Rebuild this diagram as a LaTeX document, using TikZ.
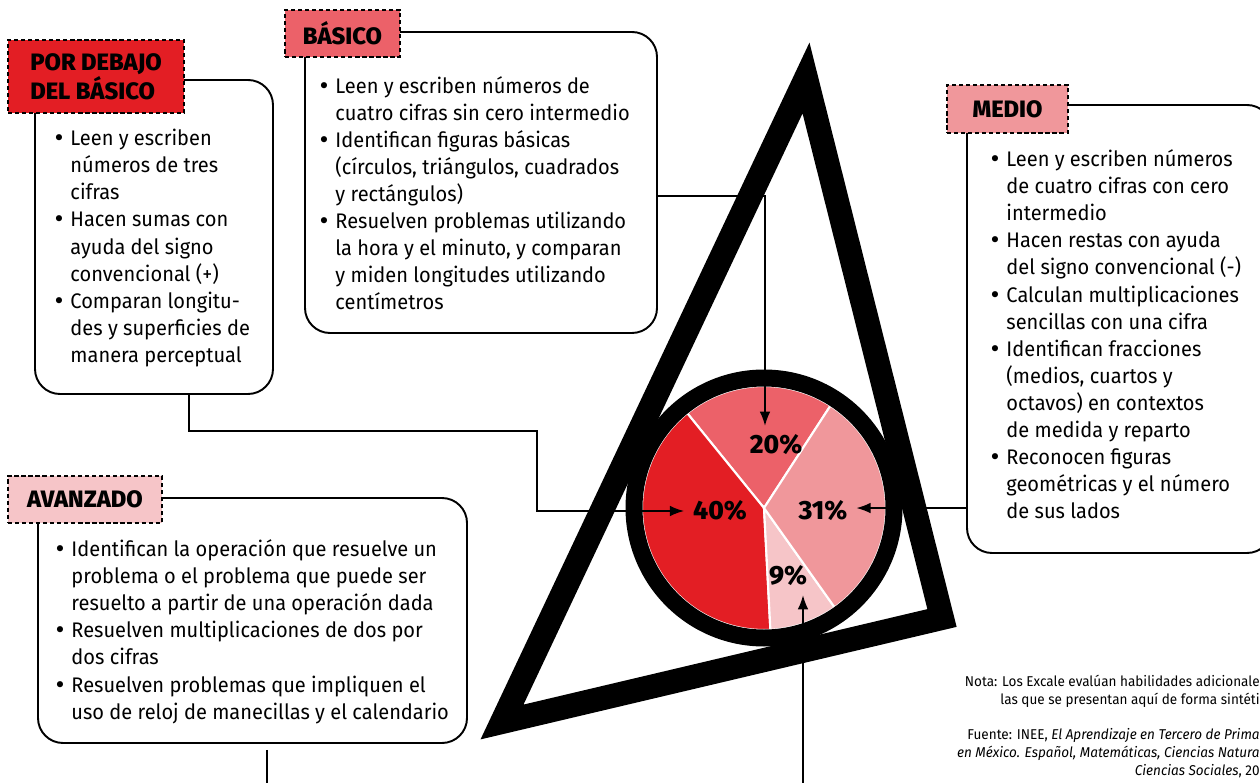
\documentclass[tikz,border=0pt]{standalone}
\usepackage{fontspec}
\setmainfont{Fira Sans}[FakeStretch=0.95]
\newfontfamily\headfont{Fira Sans ExtraBold}
\newfontfamily\puntofont{DejaVu Sans}
\usetikzlibrary{calc,positioning,fit,arrows.meta}

\definecolor{debajo}{RGB}{227,30,36}
\definecolor{basico}{RGB}{236,97,105}
\definecolor{medio}{RGB}{240,151,155}
\definecolor{avanzado}{RGB}{246,197,200}

\newcommand{\pto}{\makebox[10pt][l]{\puntofont\textbullet}}
\newcommand{\sgt}{\hspace*{10pt}}

\tikzset{
	caja/.style={draw,line width=1.1pt,rounded corners=0.5cm,inner sep=0pt},
	etiqueta/.style={draw,line width=0.9pt,dash pattern=on 2.4pt off 1.6pt,inner sep=0pt,align=left,
		font=\headfont\fontsize{13.5}{16.5}\selectfont},
	texto/.style={inner sep=0pt,align=left,font=\fontsize{12}{15.4}\selectfont},
	porc/.style={inner sep=5pt,font=\headfont\fontsize{15}{16}\selectfont},
	flecha/.style={line width=0.8pt,->},
	nota/.style={inner sep=0pt,align=right,font=\fontsize{8.1}{10.2}\selectfont}
}

\begin{document}
\begin{tikzpicture}[x=0.02cm,y=-0.02cm,>={Latex[length=8pt,width=6pt]}]
	\useasboundingbox (0,0) rectangle (1260,783);
	\clip (0,0) rectangle (1260,783);

	% triangulo
	\draw[line width=0.48cm,line join=miter] (806,78) -- (502,722) -- (942,618) -- cycle;

	% pastel
	\begin{scope}[shift={(764,508)},yscale=-1]
		\filldraw[fill=basico,draw=white,line width=1.2pt] (0,0) -- (57:122) arc[start angle=57,end angle=129,radius=122] -- cycle;
		\filldraw[fill=debajo,draw=white,line width=1.2pt] (0,0) -- (129:122) arc[start angle=129,end angle=273,radius=122] -- cycle;
		\filldraw[fill=avanzado,draw=white,line width=1.2pt] (0,0) -- (273:122) arc[start angle=273,end angle=305.4,radius=122] -- cycle;
		\filldraw[fill=medio,draw=white,line width=1.2pt] (0,0) -- (305.4:122) arc[start angle=305.4,end angle=417,radius=122] -- cycle;
		\draw[line width=0.34cm] (0,0) circle[radius=130];
	\end{scope}
	\node[porc] (p20) at (776,445) {20\%};
	\node[porc] (p40) at (720,511) {40\%};
	\node[porc] (p31) at (823,511) {31\%};
	\node[porc] (p9)  at (788,576) {9\%};

	% cajas
	\node[caja,fit={(35,80) (273,394)}] (b1) {};
	\node[caja,fit={(305,32) (657,333)}] (b2) {};
	\node[caja,fit={(967,105) (1272,553)}] (b3) {};
	\node[caja,fit={(38,498) (467,743)}] (b4) {};

	\node[texto,below right=1.0cm and 0.37cm of b1.north west] (t1) {%
		\pto Leen y escriben\\ \sgt números de tres\\ \sgt cifras\\
		\pto Hacen sumas con\\ \sgt ayuda del signo\\ \sgt convencional (+)\\
		\pto Comparan longitu-\\ \sgt des y superficies de\\ \sgt manera perceptual};
	\node[texto,below right=0.9cm and 0.27cm of b2.north west] (t2) {%
		\pto Leen y escriben números de\\ \sgt cuatro cifras sin cero intermedio\\
		\pto Identifican figuras básicas\\ \sgt (círculos, triángulos, cuadrados\\ \sgt y rectángulos)\\
		\pto Resuelven problemas utilizando\\ \sgt la hora y el minuto, y comparan\\ \sgt y miden longitudes utilizando\\ \sgt centímetros};
	\node[texto,below right=0.91cm and 0.45cm of b3.north west] (t3) {%
		\pto Leen y escriben números\\ \sgt de cuatro cifras con cero\\ \sgt intermedio\\
		\pto Hacen restas con ayuda\\ \sgt del signo convencional (-)\\
		\pto Calculan multiplicaciones\\ \sgt sencillas con una cifra\\
		\pto Identifican fracciones\\ \sgt (medios, cuartos y\\ \sgt octavos) en contextos\\ \sgt de medida y reparto\\
		\pto Reconocen figuras\\ \sgt geométricas y el número\\ \sgt de sus lados};
	\node[texto,below right=0.85cm and 0.33cm of b4.north west] (t4) {%
		\pto Identifican la operación que resuelve un\\ \sgt problema o el problema que puede ser\\ \sgt resuelto a partir de una operación dada\\
		\pto Resuelven multiplicaciones de dos por\\ \sgt dos cifras\\
		\pto Resuelven problemas que impliquen el\\ \sgt uso de reloj de manecillas y el calendario};

	% etiquetas
	\node[etiqueta,fill=debajo,minimum width=3.52cm,minimum height=1.46cm] (l1) at (96,76.5) {POR DEBAJO\\DEL BÁSICO};
	\node[etiqueta,fill=basico,minimum width=2.3cm,minimum height=0.94cm] (l2) at (342.5,33.5) {BÁSICO};
	\node[etiqueta,fill=medio,minimum width=2.42cm,minimum height=0.96cm] (l3) at (1007.5,109) {MEDIO};
	\node[etiqueta,fill=avanzado,minimum width=3.08cm,minimum height=0.94cm] (l4) at (85,499.5) {AVANZADO};

	% notas
	\node[nota,anchor=north east] (nota) at (1260,675) {Nota: Los Excale evalúan habilidades adicionale\\las que se presentan aquí de forma sintéti};
	\node[nota,anchor=north east] (fuente) at (1260,728) {Fuente: INEE, \textit{El Aprendizaje en Tercero de Prima}\\
		\textit{en México. Español, Matemáticas, Ciencias Natura}\\\textit{Ciencias Sociales}, 20};

	% conectores
	\coordinate (k1) at (537,431);
	\draw[flecha] ($(b1.south west)+(155,0)$) |- (k1) |- (p40.west);
	\draw[flecha] ($(b2.north east)+(0,165)$) -| ($(p20.north)+(-11,0)$);
	\coordinate (k3) at ($(b3.north west)+(0,404)$);
	\draw[flecha] (k3) -- (k3 -| p31.east);
	\draw[flecha] ($(b4.south west)+(230,6)$) -- ++(0,80) -| ($(p9.south)+(15,0)$);
\end{tikzpicture}
\end{document}
